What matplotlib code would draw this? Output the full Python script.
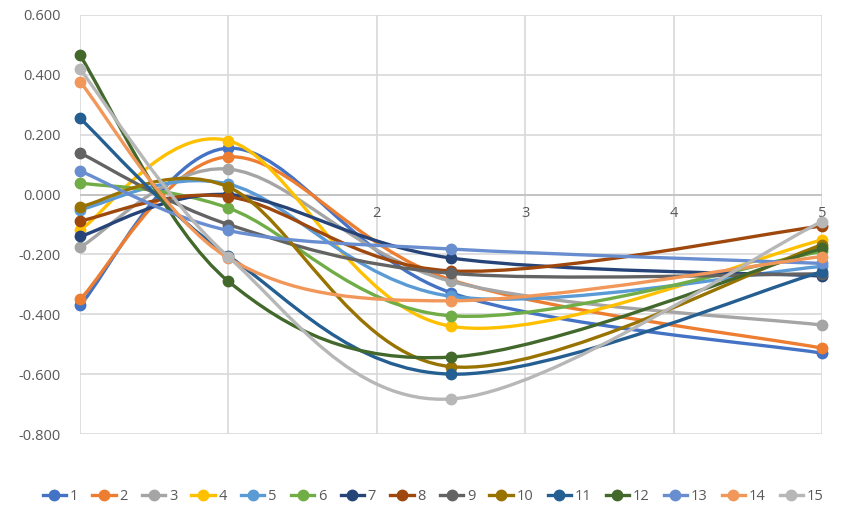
import numpy as np
import matplotlib
matplotlib.use("Agg")
import matplotlib.pyplot as plt
from matplotlib.path import Path
from matplotlib.patches import PathPatch
from matplotlib.lines import Line2D

x_vals = [0, 1, 2.5, 5]
series_names = [str(i) for i in range(1, 16)]
s1 = [-0.370, 0.155, -0.328, -0.530]
s2 = [-0.350, 0.126, -0.285, -0.513]
s3 = [-0.176, 0.085, -0.290, -0.436]
s4 = [-0.118, 0.180, -0.440, -0.152]
s5 = [-0.050, 0.035, -0.340, -0.240]
s6 = [0.039, -0.045, -0.405, -0.190]
s7 = [-0.140, 0.000, -0.212, -0.272]
s8 = [-0.088, -0.007, -0.255, -0.105]
s9 = [0.139, -0.100, -0.263, -0.265]
s10 = [-0.040, 0.025, -0.575, -0.168]
s11 = [0.255, -0.205, -0.600, -0.258]
s12 = [0.465, -0.290, -0.543, -0.180]
s13 = [0.079, -0.120, -0.182, -0.230]
s14 = [0.377, -0.212, -0.355, -0.207]
s15 = [0.419, -0.208, -0.683, -0.090]
all_series = [s1, s2, s3, s4, s5, s6, s7, s8, s9, s10, s11, s12, s13, s14, s15]
colors = ["#4472C4", "#ED7D31", "#A5A5A5", "#FFC000", "#5B9BD5", "#70AD47",
          "#264478", "#9E480E", "#636363", "#997300", "#255E91", "#43682B",
          "#698ED0", "#F1975A", "#B7B7B7"]
x_tick_labels = ["2", "3", "4", "5"]
x_tick_pos = [2, 3, 4, 5]
y_ticks = [0.6, 0.4, 0.2, 0.0, -0.2, -0.4, -0.6, -0.8]

plt.rcParams['font.family'] = ['Open Sans', 'DejaVu Sans']
W, H = 841, 515
fig = plt.figure(figsize=(W/100, H/100), dpi=100)
ax = fig.add_axes([80/W, (H-434)/H, (822-80)/W, (434-15)/H])
ax.set_xlim(0, 5)
ax.set_ylim(-0.8, 0.6)

for yv in y_ticks:
    ax.axhline(yv, color="#D9D9D9", lw=1.2, zorder=0)
for xv in range(0, 6):
    ax.axvline(xv, color="#D9D9D9", lw=1.2, zorder=0)
ax.axhline(0, color="#BFBFBF", lw=1.2, zorder=0.5)
for sp in ax.spines.values():
    sp.set_visible(False)
ax.set_xticks([])
ax.set_yticks(y_ticks)
ax.set_yticklabels([f"{v:.3f}" for v in y_ticks], color="#595959", fontsize=10.5)
ax.tick_params(axis='y', length=0, pad=14)
for p, lab in zip(x_tick_pos, x_tick_labels):
    ax.text(p, -0.062, lab, ha='center', va='center', color="#595959", fontsize=10.5, zorder=0.6)


def smooth_path(xs, ys):
    pts = np.column_stack([xs, ys]).astype(float)
    sx = (822-80)/5.0
    sy = 419/1.4
    P = pts * np.array([sx, sy])
    n = len(P)
    verts = [P[0]]
    codes = [Path.MOVETO]
    for i in range(n-1):
        p0 = P[i-1] if i > 0 else P[i]
        p1 = P[i]
        p2 = P[i+1]
        p3 = P[i+2] if i+2 < n else P[i+1]
        c1 = p1 + (p2 - p0)/6.0
        c2 = p2 - (p3 - p1)/6.0
        verts += [c1, c2, p2]
        codes += [Path.CURVE4]*3
    verts = np.array(verts) / np.array([sx, sy])
    return Path(verts, codes)

for i, (ys, c) in enumerate(zip(all_series, colors)):
    path = smooth_path(x_vals, ys)
    patch = PathPatch(path, facecolor='none', edgecolor=c, lw=2.4, zorder=2+i*0.01, capstyle='round')
    ax.add_patch(patch)
    ax.plot(x_vals, ys, 'o', color=c, ms=7.5, zorder=2+i*0.01+0.005, clip_on=False)

handles = [Line2D([0], [0], color=c, lw=2.4, marker='o', ms=7.5) for c in colors]
fig.legend(handles, series_names, loc='center', bbox_to_anchor=(433/W, 1-497/H), ncol=15,
           frameon=False, handlelength=1.6, handletextpad=0.25, columnspacing=0.98,
           fontsize=10.5, labelcolor="#595959")

fig.savefig("out.png", dpi=100)
